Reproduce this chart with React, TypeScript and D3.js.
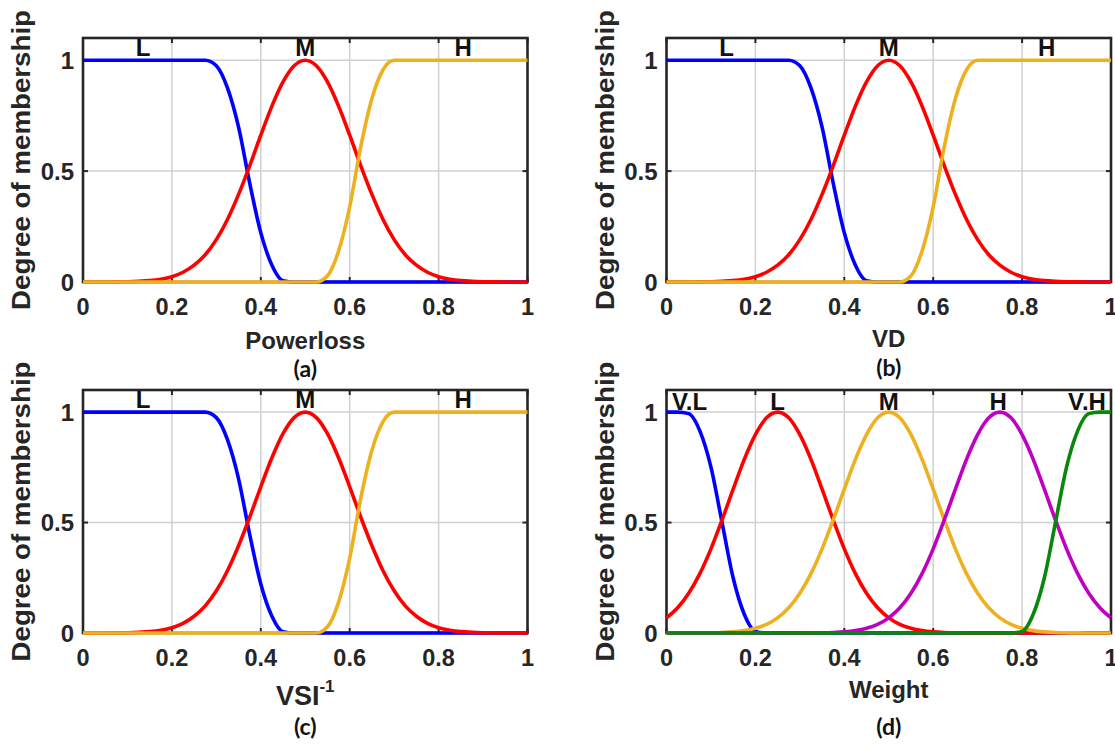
import React from 'react';
import * as d3 from 'd3';

// Sample positions along the normalised universe of discourse [0, 1]
const xSamples = [
  0, 0.025, 0.05, 0.075, 0.1, 0.125, 0.15, 0.175, 0.2, 0.225,
  0.25, 0.275, 0.3, 0.325, 0.35, 0.375, 0.4, 0.425, 0.45, 0.475,
  0.5, 0.525, 0.55, 0.575, 0.6, 0.625, 0.65, 0.675, 0.7, 0.725,
  0.75, 0.775, 0.8, 0.825, 0.85, 0.875, 0.9, 0.925, 0.95, 0.975, 1,
];

// Three-term inputs (Powerloss, VD, VSI^-1): membership degrees
const lowThree = [
  1, 1, 1, 1, 1, 1, 1, 1, 1, 1,
  1, 1, 0.975, 0.875, 0.698, 0.446, 0.222, 0.076, 0.006, 0,
  0, 0, 0, 0, 0, 0, 0, 0, 0, 0,
  0, 0, 0, 0, 0, 0, 0, 0, 0, 0, 0,
];
const mediumThree = [
  0, 0, 0.0002, 0.0006, 0.0013, 0.003, 0.0063, 0.0127, 0.024, 0.044,
  0.076, 0.123, 0.191, 0.282, 0.395, 0.524, 0.662, 0.793, 0.902, 0.975,
  1, 0.975, 0.902, 0.793, 0.662, 0.524, 0.395, 0.282, 0.191, 0.123,
  0.076, 0.044, 0.024, 0.0127, 0.0063, 0.003, 0.0013, 0.0006, 0.0002, 0, 0,
];
const highThree = [
  0, 0, 0, 0, 0, 0, 0, 0, 0, 0,
  0, 0, 0, 0, 0, 0, 0, 0, 0, 0,
  0, 0, 0.028, 0.14, 0.339, 0.611, 0.827, 0.957, 1, 1,
  1, 1, 1, 1, 1, 1, 1, 1, 1, 1, 1,
];

// Five-term output (Weight): membership degrees
const veryLowFive = [
  1, 1, 0.993, 0.915, 0.751, 0.5, 0.249, 0.085, 0.007, 0,
  0, 0, 0, 0, 0, 0, 0, 0, 0, 0,
  0, 0, 0, 0, 0, 0, 0, 0, 0, 0,
  0, 0, 0, 0, 0, 0, 0, 0, 0, 0, 0,
];
const lowFive = [
  0.0686, 0.114, 0.18, 0.269, 0.381, 0.512, 0.651, 0.786, 0.898, 0.974,
  1, 0.974, 0.898, 0.786, 0.651, 0.512, 0.381, 0.269, 0.18, 0.114,
  0.0686, 0.039, 0.0211, 0.0108, 0.0052, 0.0024, 0.001, 0.0004, 0.0002, 0.0001,
  0, 0, 0, 0, 0, 0, 0, 0, 0, 0, 0,
];
const mediumFive = [
  0, 0.0001, 0.0002, 0.0004, 0.001, 0.0024, 0.0052, 0.0108, 0.0211, 0.039,
  0.0686, 0.114, 0.18, 0.269, 0.381, 0.512, 0.651, 0.786, 0.898, 0.974,
  1, 0.974, 0.898, 0.786, 0.651, 0.512, 0.381, 0.269, 0.18, 0.114,
  0.0686, 0.039, 0.0211, 0.0108, 0.0052, 0.0024, 0.001, 0.0004, 0.0002, 0.0001, 0,
];
const highFive = [
  0, 0, 0, 0, 0, 0, 0, 0, 0, 0,
  0, 0.0001, 0.0002, 0.0004, 0.001, 0.0024, 0.0052, 0.0108, 0.0211, 0.039,
  0.0686, 0.114, 0.18, 0.269, 0.381, 0.512, 0.651, 0.786, 0.898, 0.974,
  1, 0.974, 0.898, 0.786, 0.651, 0.512, 0.381, 0.269, 0.18, 0.114, 0.0686,
];
const veryHighFive = [
  0, 0, 0, 0, 0, 0, 0, 0, 0, 0,
  0, 0, 0, 0, 0, 0, 0, 0, 0, 0,
  0, 0, 0, 0, 0, 0, 0, 0, 0, 0,
  0, 0, 0.007, 0.085, 0.249, 0.5, 0.751, 0.915, 0.993, 1, 1,
];

// Term names and the x positions where they are printed
const threeTermNames = ['L', 'M', 'H'];
const threeTermLabelX = [0.135, 0.5, 0.855];
const fiveTermNames = ['V.L', 'L', 'M', 'H', 'V.H'];
const fiveTermLabelX = [0.052, 0.25, 0.5, 0.746, 0.946];

// Axis ticks
const xTicks = [0, 0.2, 0.4, 0.6, 0.8, 1];
const xTickLabels = ['0', '0.2', '0.4', '0.6', '0.8', '1'];
const yTicks = [0, 0.5, 1];
const yTickLabels = ['0', '0.5', '1'];

const BLUE = '#0000ff';
const RED = '#ff0000';
const ORANGE = '#edb120';
const MAGENTA = '#c000c0';
const GREEN = '#0a860a';
const INK = '#262626';
const GRID = '#d0d0d0';
const FONT = '"Liberation Sans", Arial, Helvetica, sans-serif';
const CAPTION_FONT = 'Lato, "Open Sans", sans-serif';

type Curve = { values: number[]; color: string };

type PanelProps = {
  left: number;
  right: number;
  top: number;
  bottom: number;
  curves: Curve[];
  termNames: string[];
  termX: number[];
  termDy: number;
  xLabel: React.ReactNode;
  xLabelDy: number;
  caption: string;
  captionDy: number;
};

function Panel(p: PanelProps) {
  const x = d3.scaleLinear().domain([0, 1]).range([p.left, p.right]);
  const y = d3.scaleLinear().domain([0, 1.1]).range([p.bottom, p.top]);
  const line = d3
    .line<number>()
    .x((_, i) => x(xSamples[i]))
    .y((v) => y(v))
    .curve(d3.curveMonotoneX);
  const midX = (p.left + p.right) / 2;
  const midY = (p.top + p.bottom) / 2;
  const tickLen = 5;

  return (
    <g>
      {/* grid */}
      {xTicks.slice(1, -1).map((t) => (
        <line key={'gx' + t} x1={x(t)} x2={x(t)} y1={p.top} y2={p.bottom} stroke={GRID} strokeWidth={1.5} />
      ))}
      {yTicks.slice(1).map((t) => (
        <line key={'gy' + t} x1={p.left} x2={p.right} y1={y(t)} y2={y(t)} stroke={GRID} strokeWidth={1.5} />
      ))}
      {/* tick marks, drawn inward on all four sides */}
      {xTicks.map((t) => (
        <g key={'tx' + t}>
          <line x1={x(t)} x2={x(t)} y1={p.bottom} y2={p.bottom - tickLen} stroke={INK} strokeWidth={2} />
          <line x1={x(t)} x2={x(t)} y1={p.top} y2={p.top + tickLen} stroke={INK} strokeWidth={2} />
        </g>
      ))}
      {yTicks.map((t) => (
        <g key={'ty' + t}>
          <line x1={p.left} x2={p.left + tickLen} y1={y(t)} y2={y(t)} stroke={INK} strokeWidth={2} />
          <line x1={p.right} x2={p.right - tickLen} y1={y(t)} y2={y(t)} stroke={INK} strokeWidth={2} />
        </g>
      ))}
      {/* axes box, beneath the curves */}
      <rect x={p.left} y={p.top} width={p.right - p.left} height={p.bottom - p.top} fill="none" stroke={INK} strokeWidth={2.6} />
      {/* membership curves */}
      {p.curves.map((c, i) => (
        <path key={'c' + i} d={line(c.values) || ''} fill="none" stroke={c.color} strokeWidth={3.6} strokeLinejoin="round" />
      ))}
      {/* term names */}
      {p.termNames.map((n, i) => (
        <text key={'n' + n} x={x(p.termX[i])} y={y(1) + p.termDy} textAnchor="middle" fontFamily={FONT} fontWeight="bold" fontSize={24} fill="#111">
          {n}
        </text>
      ))}
      {/* tick labels */}
      {xTicks.map((t, i) => (
        <text key={'lx' + t} x={x(t)} y={p.bottom + 33} textAnchor="middle" fontFamily={FONT} fontWeight="bold" fontSize={23.5} fill={INK}>
          {xTickLabels[i]}
        </text>
      ))}
      {yTicks.map((t, i) => (
        <text key={'ly' + t} x={p.left - 9} y={y(t) + 8.5} textAnchor="end" fontFamily={FONT} fontWeight="bold" fontSize={24} fill={INK}>
          {yTickLabels[i]}
        </text>
      ))}
      {/* axis titles */}
      <text x={midX} y={p.bottom + p.xLabelDy} textAnchor="middle" fontFamily={FONT} fontWeight="bold" fontSize={24} fill={INK}>
        {p.xLabel}
      </text>
      <text
        transform={`translate(${p.left - 53},${midY}) rotate(-90)`}
        textAnchor="middle"
        fontFamily={FONT}
        fontWeight="bold"
        fontSize={25}
        fill={INK}
        textLength={300}
        lengthAdjust="spacingAndGlyphs"
      >
        Degree of membership
      </text>
      <text x={midX} y={p.bottom + p.captionDy} textAnchor="middle" fontFamily={CAPTION_FONT} fontWeight="bold" fontSize={23} fill="#111">
        {p.caption}
      </text>
    </g>
  );
}

export default function App() {
  const threeCurves: Curve[] = [
    { values: lowThree, color: BLUE },
    { values: mediumThree, color: RED },
    { values: highThree, color: ORANGE },
  ];
  const fiveCurves: Curve[] = [
    { values: veryLowFive, color: BLUE },
    { values: lowFive, color: RED },
    { values: mediumFive, color: ORANGE },
    { values: highFive, color: MAGENTA },
    { values: veryHighFive, color: GREEN },
  ];
  const leftCol = { left: 83, right: 527.5 };
  const rightCol = { left: 666.5, right: 1111 };
  const topRow = { top: 38, bottom: 282 };
  const bottomRow = { top: 390, bottom: 633 };

  return (
    <svg
      width={1115}
      height={747}
      viewBox="0 0 1115 747"
      style={{ position: 'fixed', left: 0, top: 0, background: '#fff' }}
    >
      <rect x={0} y={0} width={1115} height={747} fill="#fff" />
      <Panel
        {...leftCol}
        {...topRow}
        curves={threeCurves}
        termNames={threeTermNames}
        termX={threeTermLabelX}
        termDy={-4}
        xLabel="Powerloss"
        xLabelDy={67}
        caption="(a)"
        captionDy={95}
      />
      <Panel
        {...rightCol}
        {...topRow}
        curves={threeCurves}
        termNames={threeTermNames}
        termX={threeTermLabelX}
        termDy={-4}
        xLabel="VD"
        xLabelDy={65}
        caption="(b)"
        captionDy={94}
      />
      <Panel
        {...leftCol}
        {...bottomRow}
        curves={threeCurves}
        termNames={threeTermNames}
        termX={threeTermLabelX}
        termDy={-4}
        xLabel={
          <>
            <tspan fontSize={27}>VSI</tspan>
            <tspan fontSize={17} dy={-13}>-1</tspan>
          </>
        }
        xLabelDy={72}
        caption="(c)"
        captionDy={102}
      />
      <Panel
        {...rightCol}
        {...bottomRow}
        curves={fiveCurves}
        termNames={fiveTermNames}
        termX={fiveTermLabelX}
        termDy={-2}
        xLabel="Weight"
        xLabelDy={65}
        caption="(d)"
        captionDy={102}
      />
    </svg>
  );
}
